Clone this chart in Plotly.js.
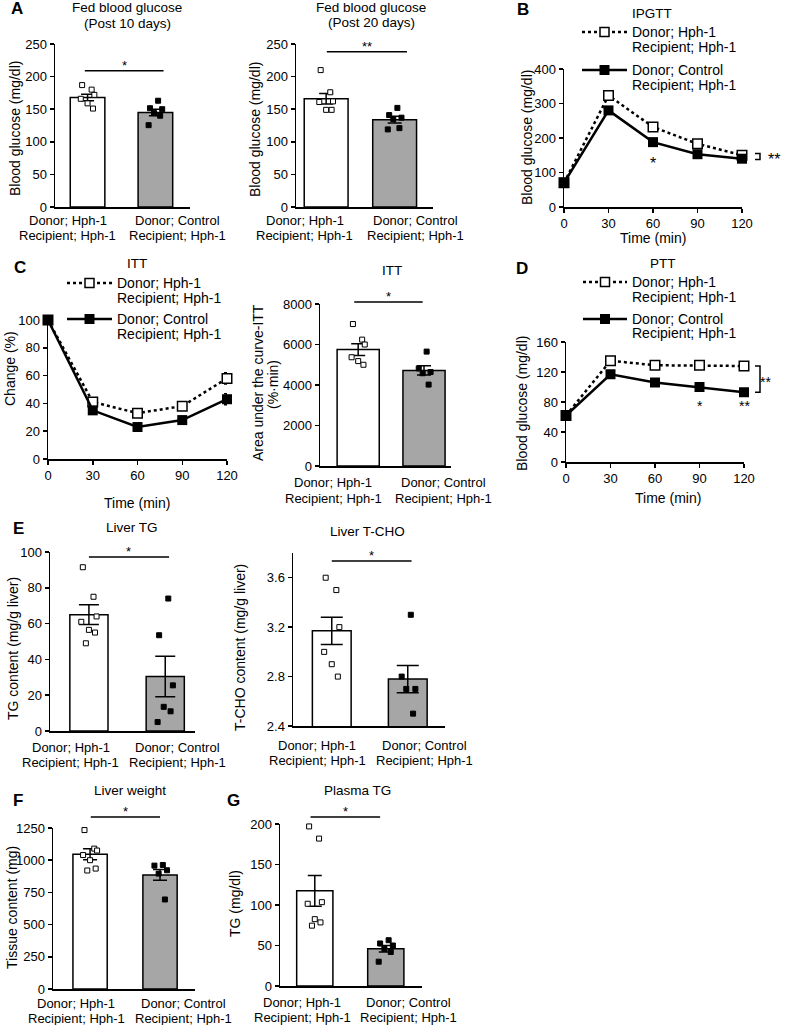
<!DOCTYPE html>
<html><head><meta charset="utf-8">
<script src="https://cdn.plot.ly/plotly-3.0.1.min.js"></script>
<style>html,body{margin:0;padding:0;background:#fff}</style>
</head><body><div id="chart" style="width:787px;height:1025px"></div>
<script>
// ---------------- DATA ----------------
const groupLine1 = ['Donor; Hph-1', 'Donor; Control'];
const groupLine2 = ['Recipient; Hph-1', 'Recipient; Hph-1'];
const time = [0, 30, 60, 90, 120];

// A: Fed blood glucose (Post 10 days)
const a1Mean = [168, 145];
const a1Sem = [5, 5];
const a1Hph = [187, 180, 172, 166, 159, 151];
const a1Ctl = [163, 151.5, 150, 144, 140, 125.5];
// A: Fed blood glucose (Post 20 days)
const a2Mean = [166, 134];
const a2Sem = [8, 5];
const a2Hph = [210, 176, 162, 161, 149, 149];
const a2Ctl = [152, 141, 137, 135, 121, 119];

// B: IPGTT
const bHph = [70, 323, 232, 183, 150];
const bHphErr = [5, 10, 8, 10, 5];
const bCtl = [70, 280, 188, 153, 140];
const bCtlErr = [5, 6, 6, 5, 5];

// C: ITT
const cHph = [100, 41, 33, 38, 58];
const cHphErr = [0, 3, 2, 3, 4];
const cCtl = [100, 35, 23, 28, 43];
const cCtlErr = [0, 2, 2, 2, 4];
// C: ITT AUC
const c2Mean = [5750, 4720];
const c2Sem = [290, 230];
const c2Hph = [7010, 6240, 6000, 5370, 5180, 5000];
const c2Ctl = [5650, 4820, 4640, 4580, 4020];

// D: PTT
const dHph = [62, 135, 129, 129, 128];
const dHphErr = [3, 5, 3, 3, 3];
const dCtl = [62, 117, 106, 100, 93];
const dCtlErr = [3, 4, 4, 3, 3];

// E: Liver TG
const e1Mean = [65, 30.5];
const e1Sem = [5.5, 11.3];
const e1Hph = [91.5, 75, 64, 61, 56.5, 55, 49];
const e1Ctl = [74, 53.5, 25.5, 13.5, 11, 5];
// E: Liver T-CHO
const e2Mean = [3.17, 2.78];
const e2Sem = [0.11, 0.11];
const e2Hph = [3.6, 3.5, 3.2, 3.0, 2.9, 2.8];
const e2Ctl = [3.3, 2.8, 2.7, 2.7, 2.5];

// F: Liver weight
const fMean = [1046, 886];
const fSem = [43, 41];
const fHph = [1234, 1090, 1075, 1040, 1000, 935, 920];
const fCtl = [963, 958, 922, 896, 695];

// G: Plasma TG
const gMean = [117.5, 46];
const gSem = [19, 4];
const gHph = [197, 182, 103.5, 101.5, 82.5, 78.5, 74.5];
const gCtl = [56.5, 52.5, 50, 46, 42, 30];

// significance levels (data units)
const sigLevels = {a1: 209, a2: 238, c2: 8100, e1: 97.2, e2: 3.735, f: 1335, g: 208.6};

// ---------------- STYLE / LAYOUT ----------------
const W = 787, H = 1025;
const FONT = '"Liberation Sans", Arial, Helvetica, sans-serif';
const GRAY = '#a6a6a6';
const px = x => x / W, py = y => 1 - y / H;
const JW = [-0.08, 0.06, 0.1, -0.1, 0.0, 0.08, -0.04];
const JG = [0.04, -0.08, 0.1, -0.02, 0.07, -0.1];
const fnt = (s, w) => ({size: s, family: FONT, color: '#000', weight: w || 'normal'});

const traces = [];
const layout = {
  width: W, height: H, margin: {l: 0, r: 0, t: 0, b: 0}, showlegend: false,
  paper_bgcolor: '#fff', plot_bgcolor: 'rgba(0,0,0,0)',
  font: fnt(13),
  annotations: [], shapes: []
};

function axBase() {
  return {showline: true, linecolor: '#000', linewidth: 1.5, showgrid: false, zeroline: false,
    fixedrange: true, tickfont: fnt(13), automargin: false};
}
function vToPy(g, v) {
  const f = (v - g.yr[0]) / (g.yr[1] - g.yr[0]);
  return py(g.y[1] - f * (g.y[1] - g.y[0]));
}
function ann(text, x, y, o) {
  return Object.assign({text: text, x: px(x), y: py(y), xref: 'paper', yref: 'paper', showarrow: false,
    xanchor: 'center', yanchor: 'middle', font: fnt(13.5)}, o || {});
}
function ids(n) { const s = n === 1 ? '' : String(n); return {xa: 'x' + s, ya: 'y' + s, xl: 'xaxis' + s, yl: 'yaxis' + s}; }

function barPanel(n, g, mean, sem, hph, ctl, sigLevel, sigText) {
  const a = ids(n);
  traces.push({type: 'bar', x: [0, 1], y: mean, width: g.bw, xaxis: a.xa, yaxis: a.ya,
    marker: {color: ['#ffffff', GRAY], line: {color: '#000', width: 1.5}},
    error_y: {type: 'data', array: sem, visible: true, color: '#000', thickness: 1.5, width: g.cap},
    hoverinfo: 'skip'});
  traces.push({type: 'scatter', mode: 'markers', x: hph.map((v, i) => 0 + JW[i % JW.length]), y: hph,
    xaxis: a.xa, yaxis: a.ya, cliponaxis: false, hoverinfo: 'skip',
    marker: {symbol: 'square', size: 5, color: '#fff', line: {color: '#000', width: 1}}});
  traces.push({type: 'scatter', mode: 'markers', x: ctl.map((v, i) => 1 + JG[i % JG.length]), y: ctl,
    xaxis: a.xa, yaxis: a.ya, cliponaxis: false, hoverinfo: 'skip',
    marker: {symbol: 'square', size: 5, color: '#000', line: {color: '#000', width: 1}}});
  layout[a.xl] = Object.assign(axBase(), {domain: [px(g.x[0]), px(g.x[1])], range: g.xr,
    showticklabels: false, ticks: '', anchor: a.ya});
  layout[a.yl] = Object.assign(axBase(), {domain: [py(g.y[1]), py(g.y[0])], range: g.yr,
    tickvals: g.tv, ticks: 'outside', ticklen: 4, tickwidth: 1.5, tickcolor: '#000', anchor: a.xa});
  // category labels (two lines each)
  [0, 1].forEach(k => {
    layout.annotations.push({xref: a.xa, yref: 'paper', x: g.lab[k], y: py(g.ly[0]), text: groupLine1[k],
      showarrow: false, xanchor: 'center', yanchor: 'middle', font: fnt(13)});
    layout.annotations.push({xref: a.xa, yref: 'paper', x: g.lab[k], y: py(g.ly[1]), text: groupLine2[k],
      showarrow: false, xanchor: 'center', yanchor: 'middle', font: fnt(13)});
  });
  const ly = vToPy(g, sigLevel);
  layout.shapes.push({type: 'line', xref: a.xa, yref: 'paper', x0: g.span[0], x1: g.span[1], y0: ly, y1: ly,
    line: {color: '#000', width: 1.5}});
  layout.annotations.push({xref: a.xa, yref: 'paper', x: (g.span[0] + g.span[1]) / 2, y: ly, text: sigText,
    showarrow: false, yanchor: 'bottom', yshift: -4, font: fnt(13)});
}

function linePanel(n, g, hph, hphErr, ctl, ctlErr, leg) {
  const a = ids(n);
  traces.push({type: 'scatter', mode: 'lines+markers', x: time, y: hph, xaxis: a.xa, yaxis: a.ya,
    cliponaxis: false, hoverinfo: 'skip',
    line: {color: '#000', width: 2.5, dash: 'dot'},
    marker: {symbol: 'square', size: 9.5, color: '#fff', line: {color: '#000', width: 1.5}},
    error_y: {type: 'data', array: hphErr, visible: true, color: '#000', thickness: 1.5, width: 3}});
  traces.push({type: 'scatter', mode: 'lines+markers', x: time, y: ctl, xaxis: a.xa, yaxis: a.ya,
    cliponaxis: false, hoverinfo: 'skip',
    line: {color: '#000', width: 2.5},
    marker: {symbol: 'square', size: 10, color: '#000'},
    error_y: {type: 'data', array: ctlErr, visible: true, color: '#000', thickness: 1.5, width: 3}});
  layout[a.xl] = Object.assign(axBase(), {domain: [px(g.x[0]), px(g.x[1])], range: [0, 120],
    tickvals: time, ticks: 'outside', ticklen: 4, tickwidth: 1.5, tickcolor: '#000', anchor: a.ya});
  layout[a.yl] = Object.assign(axBase(), {domain: [py(g.y[1]), py(g.y[0])], range: g.yr,
    tickvals: g.tv, ticks: 'outside', ticklen: 4, tickwidth: 1.5, tickcolor: '#000', anchor: a.xa});
  // manual legend
  const s0 = leg.x0, s1 = leg.x1, mid = (s0 + s1) / 2, hs = 5;
  layout.shapes.push({type: 'line', xref: 'paper', yref: 'paper', x0: px(s0), x1: px(s1), y0: py(leg.y[0]), y1: py(leg.y[0]),
    line: {color: '#000', width: 2.5, dash: 'dot'}});
  layout.shapes.push({type: 'rect', xref: 'paper', yref: 'paper', x0: px(mid - hs + 0.5), x1: px(mid + hs - 0.5),
    y0: py(leg.y[0] - hs + 0.5), y1: py(leg.y[0] + hs - 0.5), fillcolor: '#fff', line: {color: '#000', width: 1.5}});
  layout.shapes.push({type: 'line', xref: 'paper', yref: 'paper', x0: px(s0), x1: px(s1), y0: py(leg.y[2]), y1: py(leg.y[2]),
    line: {color: '#000', width: 2.5}});
  layout.shapes.push({type: 'rect', xref: 'paper', yref: 'paper', x0: px(mid - hs), x1: px(mid + hs),
    y0: py(leg.y[2] - hs), y1: py(leg.y[2] + hs), fillcolor: '#000', line: {color: '#000', width: 0}});
  const lt = ['Donor; Hph-1', 'Recipient; Hph-1', 'Donor; Control', 'Recipient; Hph-1'];
  lt.forEach((t, i) => layout.annotations.push(ann(t, leg.tx, leg.y[i], {xanchor: 'left', font: fnt(14)})));
}

// ---- panel geometry (pixels) ----
const gA1 = {x: [55, 190], y: [44, 207], xr: [-0.48, 1.51], yr: [0, 250], tv: [0, 50, 100, 150, 200, 250], bw: 0.51, lab: [-0.29, 1.32], ly: [221, 236], cap: 6.5, span: [-0.04, 1.12]};
const gA2 = {x: [296, 433], y: [44, 207], xr: [-0.44, 1.56], yr: [0, 250], tv: [0, 50, 100, 150, 200, 250], bw: 0.64, lab: [-0.31, 1.31], ly: [221, 236], cap: 7, span: [0.01, 1.18]};
const gC2 = {x: [320, 451], y: [304, 466], xr: [-0.58, 1.41], yr: [0, 8000], tv: [0, 2000, 4000, 6000, 8000], bw: 0.64, lab: [-0.38, 1.29], ly: [482, 498], cap: 7, span: [-0.06, 0.98]};
const gE1 = {x: [50, 195], y: [552, 731], xr: [-0.51, 1.39], yr: [0, 100], tv: [0, 20, 40, 60, 80, 100], bw: 0.5, lab: [-0.24, 1.16], ly: [747, 762], cap: 10, span: [0, 1.05]};
const gE2 = {x: [293, 445], y: [553, 726], xr: [-0.51, 1.49], yr: [2.4, 3.8], tv: [2.4, 2.8, 3.2, 3.6], bw: 0.51, lab: [-0.19, 1.22], ly: [745, 760], cap: 11, span: [0, 1.05]};
const gF = {x: [53, 195], y: [828, 989], xr: [-0.53, 1.5], yr: [0, 1250], tv: [0, 250, 500, 750, 1000, 1250], bw: 0.49, lab: [-0.2, 1.33], ly: [1003, 1018], cap: 7, span: [0.01, 1]};
const gG = {x: [280, 422], y: [824, 986], xr: [-0.49, 1.51], yr: [0, 200], tv: [0, 50, 100, 150, 200], bw: 0.51, lab: [-0.18, 1.32], ly: [1002, 1017], cap: 7, span: [-0.06, 0.92]};
const gB = {x: [564, 742], y: [69, 207], yr: [0, 400], tv: [0, 100, 200, 300, 400]};
const gC = {x: [48, 227], y: [320, 459], yr: [0, 100], tv: [0, 20, 40, 60, 80, 100]};
const gD = {x: [566, 744], y: [342, 462], yr: [0, 160], tv: [0, 40, 80, 120, 160]};

barPanel(1, gA1, a1Mean, a1Sem, a1Hph, a1Ctl, sigLevels.a1, '*');
barPanel(2, gA2, a2Mean, a2Sem, a2Hph, a2Ctl, sigLevels.a2, '**');
linePanel(3, gB, bHph, bHphErr, bCtl, bCtlErr, {x0: 582, x1: 627, tx: 630, y: [32, 47, 70, 85]});
linePanel(4, gC, cHph, cHphErr, cCtl, cCtlErr, {x0: 67, x1: 112, tx: 115, y: [283, 298, 319, 334]});
barPanel(5, gC2, c2Mean, c2Sem, c2Hph, c2Ctl, sigLevels.c2, '*');
linePanel(6, gD, dHph, dHphErr, dCtl, dCtlErr, {x0: 583, x1: 627, tx: 630, y: [282, 297, 319, 333]});
barPanel(7, gE1, e1Mean, e1Sem, e1Hph, e1Ctl, sigLevels.e1, '*');
barPanel(8, gE2, e2Mean, e2Sem, e2Hph, e2Ctl, sigLevels.e2, '*');
barPanel(9, gF, fMean, fSem, fHph, fCtl, sigLevels.f, '*');
barPanel(10, gG, gMean, gSem, gHph, gCtl, sigLevels.g, '*');

// line-chart significance marks
const starFont = fnt(14);
layout.annotations.push({xref: 'x3', yref: 'y3', x: 60, y: 136, text: '*', showarrow: false, yshift: -3, font: fnt(16)});
layout.annotations.push({xref: 'x6', yref: 'y6', x: 90, y: 79, text: '*', showarrow: false, yshift: -3, font: starFont});
layout.annotations.push({xref: 'x6', yref: 'y6', x: 120, y: 79, text: '**', showarrow: false, yshift: -3, font: starFont});
function bracket(ya, xPix, yTop, yBot) {
  layout.shapes.push({type: 'path', xref: 'paper', yref: ya,
    path: `M ${px(xPix - 5)},${yTop} L ${px(xPix)},${yTop} L ${px(xPix)},${yBot} L ${px(xPix - 5)},${yBot}`,
    line: {color: '#000', width: 1.5}});
}
bracket('y3', 760, bHph[4] + 5, bCtl[4] - 2);
layout.annotations.push({xref: 'paper', yref: 'y3', x: px(782), y: (bHph[4] + bCtl[4]) / 2, text: '**', showarrow: false, yshift: -3, font: fnt(16)});
bracket('y6', 760, dHph[4], dCtl[4]);
layout.annotations.push({xref: 'paper', yref: 'y6', x: px(773), y: (dHph[4] + dCtl[4]) / 2, text: '**', showarrow: false, yshift: -3, font: starFont});

// titles
[
  ['Fed blood glucose', 127, 7], ['(Post 10 days)', 127, 23],
  ['Fed blood glucose', 371, 7], ['(Post 20 days)', 371, 22],
  ['IPGTT', 652, 13], ['ITT', 137, 263], ['ITT', 392, 270], ['PTT', 663, 263],
  ['Liver TG', 132, 527], ['Liver T-CHO', 367, 531], ['Liver weight', 130, 790], ['Plasma TG', 357, 790]
].forEach(t => layout.annotations.push(ann(t[0], t[1], t[2])));

// panel letters
[['A', 17, 8], ['B', 523, 9], ['C', 20, 267], ['D', 522, 268], ['E', 18, 528], ['F', 18, 800], ['G', 233, 800]]
  .forEach(t => layout.annotations.push(ann(t[0], t[1], t[2], {font: fnt(17, 'bold')})));

// axis titles
const yt = {font: fnt(14), textangle: -90};
[
  ['Blood glucose (mg/dl)', 15, 129], ['Blood glucose (mg/dl)', 255, 129], ['Blood glucose (mg/dl)', 527, 138],
  ['Change (%)', 10, 369], ['Area under the curve-ITT', 258, 383], ['(%·min)', 273, 385],
  ['Blood glucose (mg/dl)', 522, 404], ['TG content (mg/g liver)', 13, 649], ['T-CHO content (mg/g liver)', 240, 648],
  ['Tissue content (mg)', 12, 908], ['TG (mg/dl)', 235, 903]
].forEach(t => layout.annotations.push(ann(t[0], t[1], t[2], yt)));
[['Time (min)', 653, 238], ['Time (min)', 137, 503], ['Time (min)', 668, 498]]
  .forEach(t => layout.annotations.push(ann(t[0], t[1], t[2], {font: fnt(14)})));

Plotly.newPlot('chart', traces, layout, {staticPlot: true, displayModeBar: false});
</script>
</body></html>
